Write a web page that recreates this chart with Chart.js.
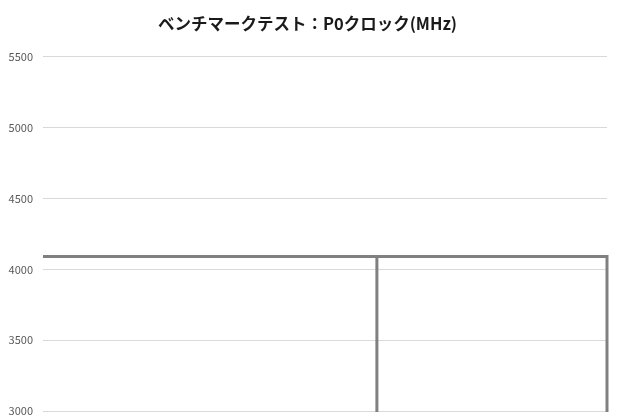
<!DOCTYPE html>
<html>
<head>
<meta charset="utf-8">
<script src="https://cdn.jsdelivr.net/npm/chart.js@4"></script>
<style>
  html, body { margin: 0; padding: 0; background: #ffffff; }
  #wrap { width: 620px; height: 420px; }
</style>
</head>
<body>
<div id="wrap"><canvas id="clockChart"></canvas></div>
<script>
// Sample positions along the run and the P0 clock read at each
const sampleIndex = [0, 592, 592, 592, 1000, 1000];
const clockMHz = [4090, 4090, 0, 4090, 4090, 0];
const yTicks = [3000, 3500, 4000, 4500, 5000, 5500];

const chartTitle = 'ベンチマークテスト：P0クロック(MHz)';

function initializeChart() {
    const ctx = document.getElementById('clockChart').getContext('2d');
    new Chart(ctx, {
        type: 'line',
        data: {
            datasets: [{
                label: 'P0クロック',
                data: sampleIndex.map((x, i) => ({ x, y: clockMHz[i] })),
                borderColor: '#808080',
                borderWidth: 3,
                pointRadius: 0,
                tension: 0,
                fill: false,
                clip: { left: 0, right: 4, top: 0, bottom: 1 }
            }]
        },
        options: {
            responsive: true,
            maintainAspectRatio: false,
            animation: false,
            layout: { padding: { left: 8, right: 13, top: 0, bottom: 9 } },
            scales: {
                x: {
                    type: 'linear',
                    min: sampleIndex[0],
                    max: sampleIndex[sampleIndex.length - 1],
                    display: false
                },
                y: {
                    min: yTicks[0],
                    max: yTicks[yTicks.length - 1],
                    afterBuildTicks: axis => { axis.ticks = yTicks.map(v => ({ value: v })); },
                    afterFit: axis => { axis.width = 35; },
                    border: { display: false },
                    // invisible tick marks keep the gap between labels and grid
                    grid: { color: '#d9d9d9', drawTicks: true, tickLength: 10, tickColor: 'rgba(0,0,0,0)' },
                    ticks: {
                        padding: 0,
                        color: '#595959',
                        font: { family: '"Noto Sans CJK JP", "Noto Sans", sans-serif', size: 11 },
                        callback: value => String(value)
                    }
                }
            },
            plugins: {
                legend: { display: false },
                tooltip: { enabled: false },
                title: {
                    display: true,
                    text: chartTitle,
                    color: '#1a1a1a',
                    font: { family: '"Noto Sans CJK JP", sans-serif', size: 16.5, weight: 'bold' },
                    padding: { top: 14, bottom: 23 }
                }
            }
        }
    });
}

initializeChart();
</script>
</body>
</html>
